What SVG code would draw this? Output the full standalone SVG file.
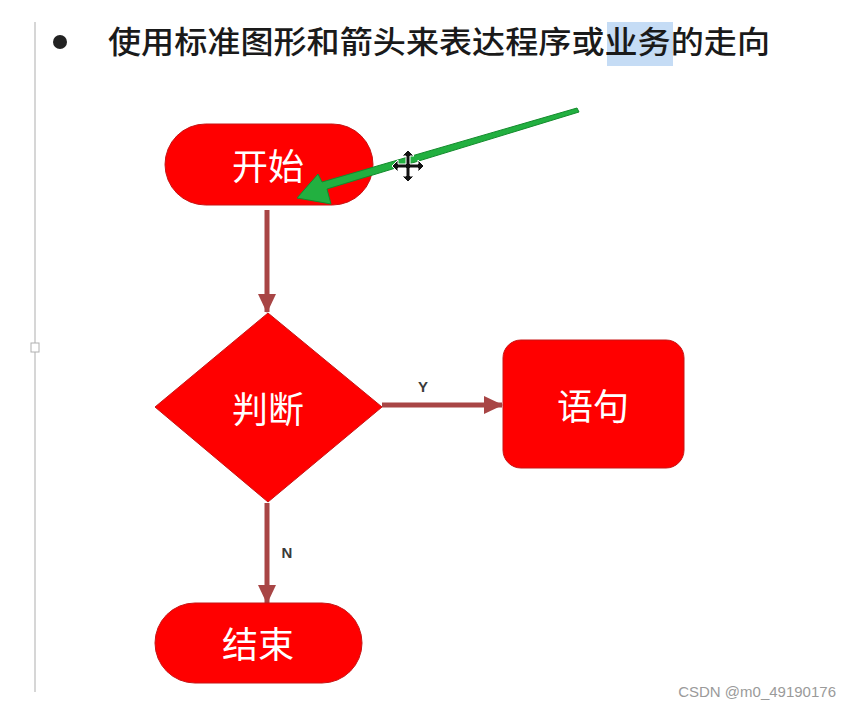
<svg xmlns="http://www.w3.org/2000/svg" width="851" height="710" viewBox="0 0 851 710">
<style>
.node{fill:#ff0000;stroke:#c81414;stroke-width:1}
.lbl{font-family:"Noto Sans CJK SC","Noto Sans",sans-serif;font-size:36px;fill:#ffffff;text-anchor:middle;dominant-baseline:central}
.yn{font-family:"Liberation Sans",Arial,sans-serif;font-size:15px;font-weight:bold;fill:#3a3a3a}
.conn{stroke:#a84545;stroke-width:5;fill:none}
</style>
<defs>
<marker id="ah" markerUnits="userSpaceOnUse" markerWidth="20" markerHeight="20" refX="18" refY="10" orient="auto">
<path d="M0,1 L19,10 L0,19 Z" fill="#a84545"/>
</marker>
</defs>
<rect width="851" height="710" fill="#ffffff"/>
<line x1="35" y1="22" x2="35" y2="692" stroke="#c8c8c8" stroke-width="1.5"/>
<rect x="31" y="343" width="8" height="9" fill="#ffffff" stroke="#b0b0b0" stroke-width="1"/>
<circle cx="60" cy="42" r="7" fill="#222222"/>
<rect x="607" y="22" width="66" height="44" fill="#c5dcf5"/>
<text x="108" y="53" font-family="'Noto Sans CJK SC','Noto Sans',sans-serif" font-size="31" font-weight="500" fill="#1a1a1a" textLength="662" lengthAdjust="spacingAndGlyphs">使用标准图形和箭头来表达程序或业务的走向</text>
<g id="connectors">
<line class="conn" x1="267" y1="210" x2="267" y2="312" marker-end="url(#ah)"/>
<line class="conn" x1="382" y1="405" x2="502" y2="405" marker-end="url(#ah)"/>
<line class="conn" x1="267" y1="503" x2="267" y2="603" marker-end="url(#ah)"/>
<text class="yn" x="423" y="392" text-anchor="middle">Y</text>
<text class="yn" x="287" y="558" text-anchor="middle">N</text>
</g>
<g id="start">
<rect class="node" x="165" y="124" width="208" height="81" rx="40.5"/>
<text class="lbl" x="268" y="164">开始</text>
</g>
<g id="decision">
<polygon class="node" points="268,313 382,407 268,502 155,407"/>
<text class="lbl" x="268" y="407">判断</text>
</g>
<g id="statement">
<rect class="node" x="503" y="340" width="181" height="128" rx="18"/>
<text class="lbl" x="593" y="404">语句</text>
</g>
<g id="end">
<rect class="node" x="155" y="603" width="207" height="80" rx="40"/>
<text class="lbl" x="258" y="642">结束</text>
</g>
<g id="annotation">
<path d="M577,108 L579,112 L327,189 L331,204 L297,198 L318,174 L322,182 Z" fill="#22b040" stroke="#138a2c" stroke-width="1"/>
<g transform="translate(408,166)" fill="#111111" stroke="#ffffff" stroke-width="1">
<path d="M0,-16 L6,-10 L2,-10 L2,-2 L10,-2 L10,-6 L16,0 L10,6 L10,2 L2,2 L2,10 L6,10 L0,16 L-6,10 L-2,10 L-2,2 L-10,2 L-10,6 L-16,0 L-10,-6 L-10,-2 L-2,-2 L-2,-10 L-6,-10 Z"/>
</g>
</g>
<text x="836" y="697" text-anchor="end" font-family="'Liberation Sans',Arial,sans-serif" font-size="15" fill="#9a9a9a">CSDN @m0_49190176</text>
</svg>
